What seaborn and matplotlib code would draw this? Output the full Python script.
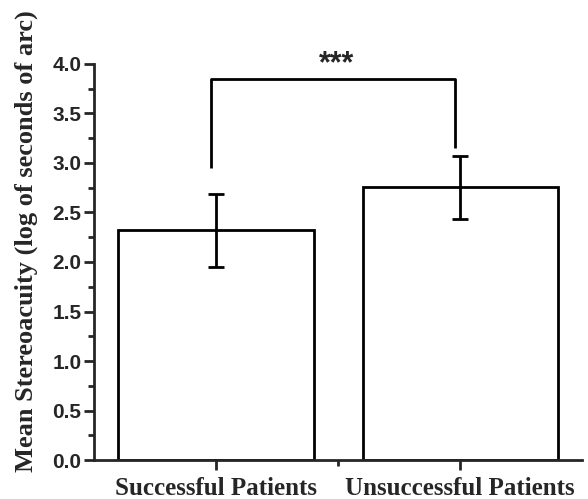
import matplotlib
matplotlib.use("Agg")
import matplotlib.pyplot as plt
import seaborn as sns
import pandas as pd
from matplotlib.ticker import MultipleLocator

groups = ["Successful Patients", "Unsuccessful Patients"]
means = [2.32, 2.76]
err_low = [1.95, 2.43]
err_high = [2.69, 3.07]
bracket_y = 3.85
bracket_left_end = 2.95
bracket_right_end = 3.15
sig_label = "***"

sns.set_style("ticks")
plt.rcParams['font.family'] = ['Liberation Sans', 'DejaVu Sans']

df = pd.DataFrame({"group": groups, "mean": means})

fig = plt.figure(figsize=(5.88, 4.99), dpi=100)
ax = fig.add_axes([0.16, 0.078, 0.83, 0.794])

sns.barplot(data=df, x="group", y="mean", ax=ax, color="white",
            edgecolor="black", linewidth=2, width=0.8, errorbar=None)

yerr = [[m - lo for m, lo in zip(means, err_low)],
        [hi - m for m, hi in zip(means, err_high)]]
ax.errorbar(range(len(groups)), means, yerr=yerr, fmt="none", ecolor="black",
            elinewidth=2, capsize=6, capthick=2)

# significance bracket
ax.plot([-0.02, -0.02, 0.98, 0.98],
        [bracket_left_end, bracket_y, bracket_y, bracket_right_end],
        color="black", lw=2, solid_capstyle="butt")
ax.text(0.495, 4.0, sig_label, ha="center", va="center",
        fontsize=22, fontweight="bold", clip_on=False)

ax.set_xlim(-0.5, 1.5)
ax.set_ylim(0, 4.0)
ax.yaxis.set_major_locator(MultipleLocator(0.5))
ax.yaxis.set_minor_locator(MultipleLocator(0.25))
ax.set_xticks([0, 1])
ax.set_xticks([0.5], minor=True)

for s in ["top", "right"]:
    ax.spines[s].set_visible(False)
for s in ["left", "bottom"]:
    ax.spines[s].set_linewidth(2)

ax.tick_params(axis="both", which="major", length=7, width=2, direction="out")
ax.tick_params(axis="both", which="minor", length=4, width=2, direction="out")
ax.tick_params(axis="y", labelsize=15, pad=2)
for lab in ax.get_yticklabels():
    lab.set_fontweight("bold")
ax.set_xticklabels(groups, fontsize=18, fontweight="bold",
                   family=["Liberation Serif", "DejaVu Serif"])
ax.tick_params(axis="x", pad=5)

ax.set_xlabel("")
ax.set_ylabel("Mean Stereoacuity (log of seconds of arc)", fontsize=19,
              fontweight="bold", family=["Liberation Serif", "DejaVu Serif"])
ax.yaxis.set_label_coords(-0.115, 0.553)

fig.savefig("out.png", dpi=100)
